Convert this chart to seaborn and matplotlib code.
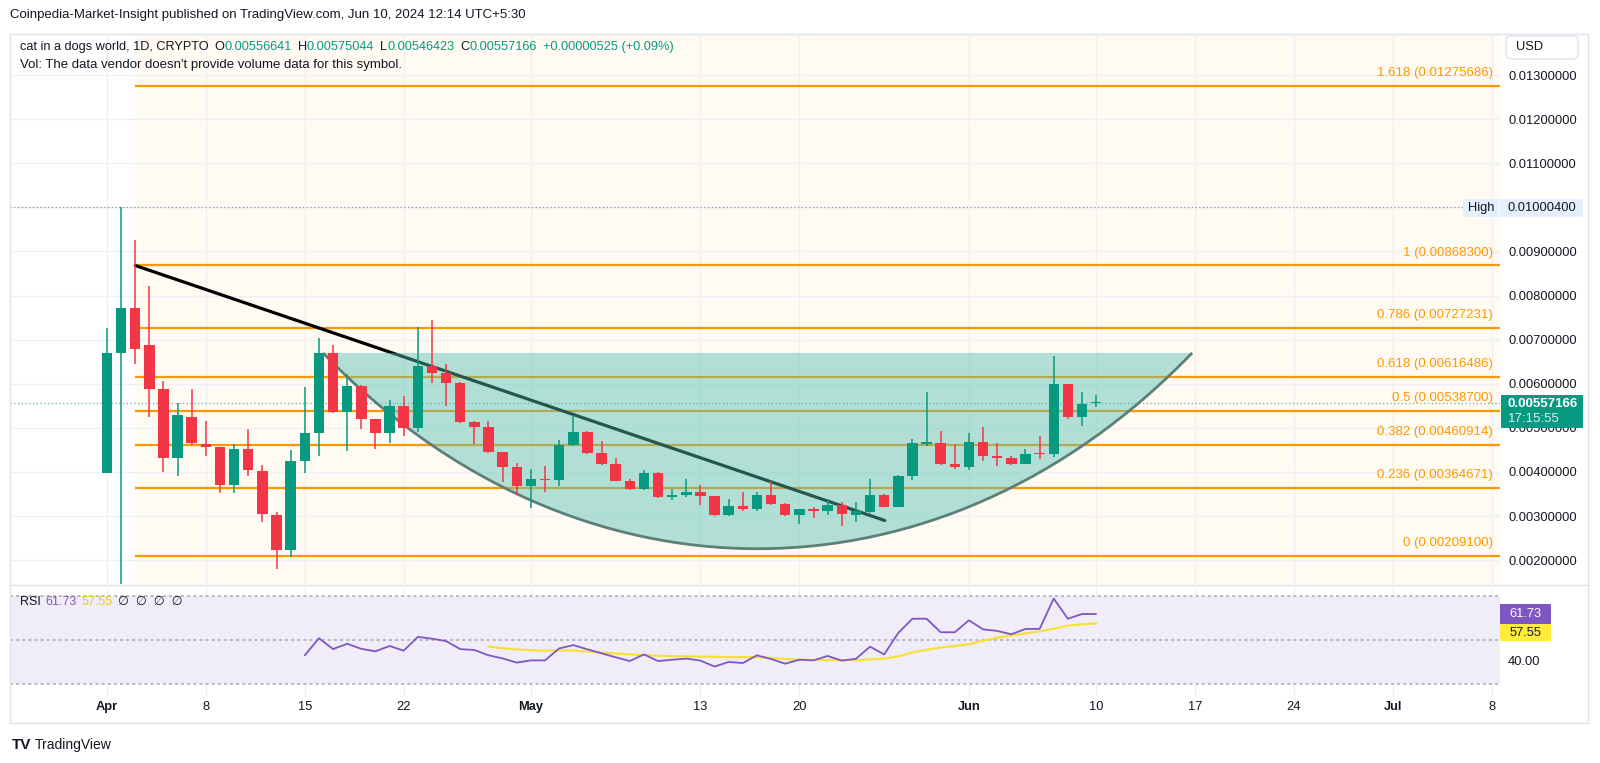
import numpy as np
import pandas as pd
import matplotlib
matplotlib.use("Agg")
import matplotlib.pyplot as plt
import matplotlib.dates as mdates
from matplotlib.path import Path
from matplotlib.patches import PathPatch, Rectangle, FancyBboxPatch
import seaborn as sns

# ---- values ----
dates = pd.date_range("2024-04-01", "2024-06-10", freq="D")
opens = [0.00398, 0.00669, 0.00772, 0.00687, 0.00588, 0.00431, 0.00524, 0.00464, 0.00457, 0.00370,
         0.00451, 0.00403, 0.00303, 0.00222, 0.00425, 0.00489, 0.00669, 0.00537, 0.00595, 0.00521,
         0.00489, 0.00550, 0.00500, 0.00641, 0.00625, 0.00602, 0.00514, 0.00503, 0.00446, 0.00412,
         0.00369, 0.00385, 0.00382, 0.00461, 0.00491, 0.00442, 0.00417, 0.00380, 0.00361, 0.00397,
         0.00343, 0.00347, 0.00355, 0.00345, 0.00302, 0.00323, 0.00315, 0.00347, 0.00327, 0.00302,
         0.00315, 0.00311, 0.00325, 0.00303, 0.00309, 0.00348, 0.00321, 0.00392, 0.00464, 0.00465,
         0.00417, 0.00412, 0.00469, 0.00436, 0.00431, 0.00418, 0.00442, 0.00441, 0.00599, 0.00524,
         0.00556641]
highs = [0.00727, 0.010004, 0.00926, 0.00822, 0.00606, 0.00556, 0.00588, 0.00516, 0.00457, 0.00464,
         0.00498, 0.00415, 0.00310, 0.00450, 0.00593, 0.00703, 0.00688, 0.00622, 0.00597, 0.00521,
         0.00563, 0.00573, 0.00729, 0.00745, 0.00645, 0.00604, 0.00516, 0.00516, 0.00446, 0.00420,
         0.00407, 0.00413, 0.00473, 0.00529, 0.00494, 0.00471, 0.00431, 0.00385, 0.00404, 0.00399,
         0.00361, 0.00385, 0.00371, 0.00346, 0.00339, 0.00354, 0.00354, 0.00380, 0.00329, 0.00316,
         0.00320, 0.00338, 0.00331, 0.00331, 0.00385, 0.00350, 0.00394, 0.00474, 0.00582, 0.00494,
         0.00461, 0.00488, 0.00503, 0.00466, 0.00436, 0.00452, 0.00482, 0.00663, 0.00600, 0.00582,
         0.00575044]
lows = [0.00398, 0.00147, 0.00644, 0.00524, 0.00401, 0.00391, 0.00462, 0.00437, 0.00352, 0.00352,
        0.00391, 0.00287, 0.00179, 0.00208, 0.00398, 0.00437, 0.00534, 0.00448, 0.00497, 0.00451,
        0.00466, 0.00482, 0.00490, 0.00601, 0.00550, 0.00512, 0.00463, 0.00444, 0.00377, 0.00348,
        0.00318, 0.00355, 0.00369, 0.00458, 0.00440, 0.00415, 0.00380, 0.00359, 0.00359, 0.00342,
        0.00337, 0.00343, 0.00325, 0.00300, 0.00300, 0.00311, 0.00312, 0.00325, 0.00300, 0.00282,
        0.00295, 0.00303, 0.00278, 0.00286, 0.00306, 0.00320, 0.00320, 0.00381, 0.00460, 0.00415,
        0.00406, 0.00405, 0.00424, 0.00414, 0.00416, 0.00417, 0.00429, 0.00433, 0.00520, 0.00504,
        0.00546423]
closes = [0.00669, 0.00773, 0.00680, 0.00588, 0.00431, 0.00529, 0.00465, 0.00457, 0.00370, 0.00451,
          0.00404, 0.00305, 0.00222, 0.00425, 0.00489, 0.00669, 0.00537, 0.00595, 0.00521, 0.00489,
          0.00550, 0.00500, 0.00641, 0.00625, 0.00602, 0.00514, 0.00503, 0.00446, 0.00412, 0.00369,
          0.00384, 0.00382, 0.00461, 0.00491, 0.00442, 0.00417, 0.00380, 0.00361, 0.00397, 0.00343,
          0.00347, 0.00355, 0.00345, 0.00302, 0.00323, 0.00315, 0.00347, 0.00327, 0.00302, 0.00315,
          0.00311, 0.00325, 0.00304, 0.00311, 0.00347, 0.00321, 0.00392, 0.00465, 0.00466, 0.00417,
          0.00412, 0.00469, 0.00436, 0.00431, 0.00418, 0.00441, 0.00441, 0.00599, 0.00524, 0.00554,
          0.00557166]

fib_levels = ["1.618", "1", "0.786", "0.618", "0.5", "0.382", "0.236", "0"]
fib_prices = [0.01275686, 0.00868300, 0.00727231, 0.00616486, 0.00538700, 0.00460914, 0.00364671, 0.00209100]
fib_start = "2024-04-03"

trend_dates = ["2024-04-03 00:00", "2024-05-26 01:00"]
trend_prices = [0.008683, 0.00290]

cup_dates = ["2024-04-16 07:00", "2024-06-16 19:00"]
cup_top = 0.00670
cup_low = 0.00226

high_price = 0.010004
last_price = 0.00557166

price_ticks = [0.002, 0.003, 0.004, 0.005, 0.006, 0.007, 0.008, 0.009, 0.010, 0.011, 0.012, 0.013]

date_ticks = ["2024-04-01", "2024-04-08", "2024-04-15", "2024-04-22", "2024-05-01", "2024-05-13",
              "2024-05-20", "2024-06-01", "2024-06-10", "2024-06-17", "2024-06-24", "2024-07-01", "2024-07-08"]
date_labels = ["Apr", "8", "15", "22", "May", "13", "20", "Jun", "10", "17", "24", "Jul", "8"]

rsi_start = "2024-04-15"
rsi = [43.1, 50.8, 45.9, 48.3, 46.0, 44.9, 47.3, 45.2, 51.4, 50.6, 49.5, 45.9, 45.5, 43.1, 41.7,
       39.8, 40.8, 40.8, 46.2, 47.7, 45.8, 44.0, 42.2, 40.5, 43.5, 40.5, 41.1, 41.6, 40.7, 38.0,
       40.1, 39.6, 43.1, 41.4, 39.3, 41.1, 40.8, 42.8, 40.7, 41.5, 47.0, 43.5, 53.2, 59.6, 59.6,
       53.5, 53.5, 58.9, 54.8, 54.1, 52.6, 55.0, 55.0, 68.7, 59.6, 61.73, 61.73]
rsi_ma_start = "2024-04-28"
rsi_ma = [47.0, 46.3, 45.8, 45.4, 45.2, 45.3, 45.2, 44.8, 44.3, 43.9, 43.5, 43.2, 42.9, 42.7, 42.6,
          42.5, 42.4, 42.3, 42.3, 42.2, 41.9, 41.4, 41.1, 41.0, 40.9, 40.9, 40.9, 41.2, 41.6, 42.6,
          44.4, 45.6, 46.6, 47.3, 48.1, 49.7, 51.0, 52.0, 53.0, 53.9, 55.1, 56.5, 57.0, 57.55]

# ---- colours ----
UP = "#089981"
DOWN = "#f23645"
FIB = "#ff9800"
TXT = "#131722"
PURPLE = "#7e57c2"
YELLOW = "#f7e03a"
GRID = "#eef0f5"

W, H = 1600, 763

sns.set_theme(style="white")
plt.rcParams['font.family'] = ['Liberation Sans', 'DejaVu Sans']

fig = plt.figure(figsize=(16, 7.63), dpi=100)


def fx(p):
    return p / W


def fy(p):
    return 1 - p / H


def box(x0, y0, x1, y1, color, ec="none", rounded=False):
    if rounded:
        r = FancyBboxPatch((fx(x0), fy(y1)), fx(x1) - fx(x0), fy(y0) - fy(y1),
                           boxstyle="round,pad=0,rounding_size=0.004", transform=fig.transFigure,
                           facecolor=color, edgecolor=ec, lw=1)
    else:
        r = Rectangle((fx(x0), fy(y1)), fx(x1) - fx(x0), fy(y0) - fy(y1), transform=fig.transFigure,
                      facecolor=color, edgecolor=ec, lw=1)
    fig.add_artist(r)


def pix_line(x0, y0, x1, y1, color="#e0e3eb", lw=1):
    fig.add_artist(plt.Line2D([fx(x0), fx(x1)], [fy(y0), fy(y1)], transform=fig.transFigure,
                              color=color, lw=lw))


x = mdates.date2num(dates)
d0 = x[0]
xlim = (d0 - 6.86, d0 + 98.58)

# ---- main price pane ----
ax = fig.add_axes([fx(10), fy(584), fx(1500) - fx(10), fy(34) - fy(584)])
ax.set_facecolor("white")
ax.set_xlim(*xlim)
ax.set_ylim(0.00146, 0.013932)
for s in ax.spines.values():
    s.set_visible(False)

fib_x0 = mdates.date2num(pd.Timestamp(fib_start))
ax.axvspan(fib_x0, xlim[1], color="#fffaf2", zorder=0, lw=0)

tick_x = mdates.date2num(pd.to_datetime(date_ticks))
ax.vlines(tick_x, 0, 1, transform=ax.get_xaxis_transform(), color=GRID, lw=1, zorder=0.5)
ax.hlines(price_ticks, xlim[0], xlim[1], color=GRID, lw=1, zorder=0.5)

# fib levels
ax.hlines(fib_prices, fib_x0, xlim[1], color=FIB, lw=1.6, zorder=1)
for lvl, p in zip(fib_levels, fib_prices):
    ax.annotate(f"{lvl} ({p:.8f})", (d0 + 98.1, p), xytext=(0, 5), textcoords="offset points",
                ha="right", va="bottom", color=FIB, fontsize=9.5, zorder=6)

# high / last price dotted lines
ax.hlines(high_price, xlim[0], d0 + 96.0, color="#9598a1", lw=0.9, ls=(0, (1, 2)), zorder=1)
ax.axhline(last_price, color=UP, lw=0.9, ls=(0, (1, 2)), alpha=0.7, zorder=1)

# trend line
tx = mdates.date2num(pd.to_datetime(trend_dates))
ax.plot(tx, trend_prices, color="black", lw=2.3, zorder=2, solid_capstyle="round")

# cup shape (cubic curve, drawn as a shape)
cx = mdates.date2num(pd.to_datetime(cup_dates))
hw = (cx[1] - cx[0]) / 2
ctrl_y = cup_top - 4 / 3 * (cup_top - cup_low)
k = 0.58
verts = [(cx[0], cup_top), (cx[0] + k * hw, ctrl_y), (cx[1] - k * hw, ctrl_y), (cx[1], cup_top),
         (cx[0], cup_top)]
codes = [Path.MOVETO, Path.CURVE4, Path.CURVE4, Path.CURVE4, Path.LINETO]
ax.add_patch(PathPatch(Path(verts, codes), facecolor="#54c0b2", alpha=0.45, lw=0, zorder=3))
ax.add_patch(PathPatch(Path(verts[:4], codes[:4]), facecolor="none", edgecolor="#5c7f78",
                       lw=2, zorder=3.2))

# candles
o = np.array(opens)
c = np.array(closes)
colors = [UP if cc >= oo else DOWN for oo, cc in zip(o, c)]
ax.vlines(x, lows, highs, colors=colors, lw=1.1, zorder=4)
body = np.maximum(np.abs(c - o), 0.00003)
ax.bar(x, body, bottom=np.minimum(o, c), width=0.74, color=colors, zorder=4.5, lw=0)

ax.set_yticks(price_ticks)
ax.set_yticklabels(["" if abs(p - 0.010) < 1e-9 else f"{p:.8f}" for p in price_ticks])
ax.yaxis.tick_right()
ax.tick_params(axis="y", length=0, pad=6, labelsize=9.3, labelcolor=TXT)
ax.set_xticks([])

# ---- RSI pane ----
rax = fig.add_axes([fx(10), fy(697), fx(1500) - fx(10), fy(586) - fy(697)])
rax.set_facecolor("white")
rax.set_xlim(*xlim)
rax.set_ylim(24.27, 74.38)
for s in rax.spines.values():
    s.set_visible(False)
rax.axhspan(30, 70, color=PURPLE, alpha=0.1, lw=0, zorder=0)
rax.vlines(tick_x, 0, 1, transform=rax.get_xaxis_transform(), color=GRID, lw=1, zorder=0.5)
for lv in [70, 50, 30]:
    rax.axhline(lv, color="#9598a1", lw=1.1, ls=(0, (2, 2)), alpha=0.8, zorder=1)

rsi_x = mdates.date2num(pd.date_range(rsi_start, periods=len(rsi), freq="D"))
ma_x = mdates.date2num(pd.date_range(rsi_ma_start, periods=len(rsi_ma), freq="D"))
sns.lineplot(x=ma_x, y=rsi_ma, ax=rax, color=YELLOW, lw=1.6, zorder=2)
sns.lineplot(x=rsi_x, y=rsi, ax=rax, color=PURPLE, lw=1.3, zorder=3)
rax.set_yticks([])
rax.set_xticks(tick_x)
rax.set_xticklabels(date_labels)
rax.tick_params(axis="x", length=0, pad=3, labelsize=9.3, labelcolor=TXT)
for lab in rax.get_xticklabels():
    if lab.get_text() in ("Apr", "May", "Jun", "Jul"):
        lab.set_fontweight("bold")

# ---- frame ----
pix_line(10, 34, 1588, 34)
pix_line(10, 34, 10, 723)
pix_line(10, 723, 1588, 723)
pix_line(1588, 34, 1588, 723)
pix_line(10, 585, 1588, 585)

# ---- labels and boxes ----
renderer = fig.canvas.get_renderer()


def seg_text(x0, y0, segments, size, gap=0):
    xx = x0
    for s, col in segments:
        if s == "":
            xx += gap
            continue
        t = fig.text(fx(xx), fy(y0), s, color=col, fontsize=size, va="center", ha="left")
        xx += t.get_window_extent(renderer=renderer).width


fig.text(fx(10), fy(15), "Coinpedia-Market-Insight published on TradingView.com, Jun 10, 2024 12:14 UTC+5:30",
         fontsize=9.5, color=TXT, va="center")

seg_text(20, 47, [("cat in a dogs world, 1D, CRYPTO", TXT), ("", None),
                  ("O", TXT), ("0.00556641", UP), ("", None),
                  ("H", TXT), ("0.00575044", UP), ("", None),
                  ("L", TXT), ("0.00546423", UP), ("", None),
                  ("C", TXT), ("0.00557166", UP), ("", None),
                  ("+0.00000525 (+0.09%)", UP)], 9.2, gap=6)
fig.text(fx(20), fy(65), "Vol: The data vendor doesn't provide volume data for this symbol.",
         fontsize=9.5, color=TXT, va="center")

seg_text(20, 602, [("RSI", TXT), ("", None), ("61.73", PURPLE), ("", None), ("57.55", "#e8cf1c"),
                   ("", None), ("\u2205  \u2205  \u2205  \u2205", TXT)], 9, gap=5)

# USD box
box(1506, 36, 1578, 59, "white", ec="#e0e3eb", rounded=True)
fig.text(fx(1516), fy(47.5), "USD", fontsize=9.3, color=TXT, va="center")

# High label
box(1463, 199, 1499, 217, "#e3effd")
fig.text(fx(1481), fy(208), "High", fontsize=9.3, color=TXT, va="center", ha="center")
box(1500, 199, 1583, 217, "#e3effd")
fig.text(fx(1508), fy(208), "0.01000400", fontsize=9.3, color=TXT, va="center")

# last price label
box(1501, 395, 1583, 428, UP)
fig.text(fx(1508), fy(404), "0.00557166", fontsize=9.5, color="white", va="center", fontweight="bold")
fig.text(fx(1508), fy(419), "17:15:55", fontsize=9.5, color="white", va="center", alpha=0.85)

# RSI labels
box(1500, 604, 1551, 624, PURPLE)
fig.text(fx(1525.5), fy(614), "61.73", fontsize=9.3, color="white", va="center", ha="center")
box(1500, 624, 1551, 641, "#ffeb3b")
fig.text(fx(1525.5), fy(632.5), "57.55", fontsize=9.3, color=TXT, va="center", ha="center")
fig.text(fx(1508), fy(662), "40.00", fontsize=9.3, color=TXT, va="center")

# footer
fig.text(fx(12), fy(745), "TV", fontsize=11, color=TXT, va="center", fontweight="bold")
fig.text(fx(35), fy(745), "TradingView", fontsize=10, color=TXT, va="center")

fig.savefig("out.png", dpi=100, facecolor="white")
